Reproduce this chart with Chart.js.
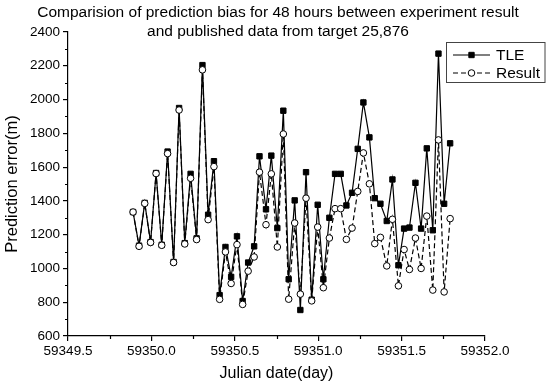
<!DOCTYPE html>
<html lang="en">
<head>
<meta charset="UTF-8">
<title>Prediction bias 48h</title>
<style>
  html, body { margin: 0; padding: 0; background: #fff; }
  #wrap { width: 550px; height: 391px; }
</style>
</head>
<body>
<div id="wrap"><canvas id="biasChart" width="550" height="391"></canvas></div>
<script src="https://cdn.jsdelivr.net/npm/chart.js@4/dist/chart.umd.js"></script>
<script>
// values
const julianDates = [
  59349.890, 59349.926, 59349.960, 59349.995, 59350.028, 59350.062, 59350.097, 59350.133,
  59350.166, 59350.200, 59350.235, 59350.271, 59350.306, 59350.340, 59350.375, 59350.409,
  59350.444, 59350.478, 59350.513, 59350.547, 59350.580, 59350.616, 59350.648, 59350.687,
  59350.719, 59350.755, 59350.791, 59350.823, 59350.859, 59350.893, 59350.927, 59350.961,
  59350.997, 59351.031, 59351.067, 59351.101, 59351.135, 59351.169, 59351.203, 59351.237,
  59351.271, 59351.307, 59351.339, 59351.373, 59351.411, 59351.445, 59351.481, 59351.515,
  59351.547, 59351.583, 59351.617, 59351.651, 59351.687, 59351.721, 59351.755, 59351.791
];
const tleError = [
  1334, 1135, 1388, 1156, 1565, 1140, 1692, 1038,
  1950, 1150, 1560, 1178, 2204, 1318, 1635, 842,
  1127, 950, 1190, 807, 1035, 1131, 1664, 1350,
  1668, 1239, 1934, 936, 1403, 754, 1570, 815,
  1377, 936, 1300, 1560, 1560, 1373, 1448, 1708,
  1983, 1776, 1416, 1383, 1281, 1527, 1019, 1236,
  1242, 1507, 1236, 1711, 1226, 2272, 1383, 1741
];
const resultError = [
  1334, 1131, 1385, 1154, 1562, 1137, 1680, 1035,
  1938, 1145, 1534, 1171, 2176, 1289, 1603, 817,
  1098, 911, 1141, 787, 984, 1068, 1570, 1259,
  1560, 1127, 1796, 818, 1269, 848, 1416, 808,
  1245, 886, 1180, 1354, 1354, 1172, 1239, 1456,
  1684, 1501, 1147, 1184, 1015, 1291, 897, 1112,
  994, 1180, 1000, 1310, 872, 1761, 861, 1295
];
const xTickValues = [59349.5, 59350.0, 59350.5, 59351.0, 59351.5, 59352.0];
const xMinorTicks = [59349.75, 59350.25, 59350.75, 59351.25, 59351.75];
const yTickValues = [600, 800, 1000, 1200, 1400, 1600, 1800, 2000, 2200, 2400];
const yMinorTicks = [700, 900, 1100, 1300, 1500, 1700, 1900, 2100, 2300];
const titleLines = [
  'Comparision of prediction bias for 48 hours between experiment result',
  'and published data from target 25,876'
];

const FONT = '"Liberation Sans", Arial, sans-serif';

const tleStyle = { pointStyle: 'rect', radius: 3.8, rotation: 0, borderWidth: 1 };
const resStyle = { pointStyle: 'circle', radius: 3.3, rotation: 0, borderWidth: 1 };
const resDash = [5, 3];

const extras = {
  id: 'extras',
  afterDraw(chart) {
    const ctx = chart.ctx;
    const xs = chart.scales.x, ys = chart.scales.y;
    const area = chart.chartArea;
    ctx.save();
    // minor ticks
    ctx.strokeStyle = '#000';
    ctx.lineWidth = 1.2;
    ctx.beginPath();
    xMinorTicks.forEach(v => {
      const px = Math.round(xs.getPixelForValue(v)) + 0.5;
      ctx.moveTo(px, area.bottom);
      ctx.lineTo(px, area.bottom + 3);
    });
    yMinorTicks.forEach(v => {
      const py = Math.round(ys.getPixelForValue(v)) + 0.5;
      ctx.moveTo(area.left, py);
      ctx.lineTo(area.left - 3, py);
    });
    ctx.stroke();

    // title
    ctx.fillStyle = '#000';
    ctx.font = '15.5px ' + FONT;
    ctx.textAlign = 'center';
    ctx.textBaseline = 'middle';
    ctx.fillText(titleLines[0], 278, 13);
    ctx.fillText(titleLines[1], 278, 31.5);

    // legend box
    ctx.lineWidth = 1;
    ctx.strokeStyle = '#444';
    ctx.strokeRect(446.5, 42.5, 98.5, 40);
    ctx.strokeStyle = '#000';
    ctx.lineWidth = 1.2;
    ctx.beginPath();
    ctx.moveTo(453, 55); ctx.lineTo(490, 55);
    ctx.stroke();
    ctx.setLineDash(resDash);
    ctx.beginPath();
    ctx.moveTo(453, 73); ctx.lineTo(490, 73);
    ctx.stroke();
    ctx.setLineDash([]);
    ctx.lineWidth = 1;
    ctx.fillStyle = '#000';
    Chart.helpers.drawPoint(ctx, tleStyle, 471.5, 55);
    ctx.fillStyle = '#fff';
    Chart.helpers.drawPoint(ctx, resStyle, 471.5, 73);
    ctx.fillStyle = '#000';
    ctx.font = '15.5px ' + FONT;
    ctx.textAlign = 'left';
    ctx.fillText(chart.data.datasets[1].label, 496, 55.5);
    ctx.fillText(chart.data.datasets[0].label, 496, 74);
    ctx.restore();
  }
};

new Chart(document.getElementById('biasChart'), {
  type: 'line',
  data: {
    datasets: [
      {
        label: 'Result',
        data: julianDates.map((d, i) => ({ x: d, y: resultError[i] })),
        borderColor: '#000',
        borderWidth: 1.2,
        borderDash: resDash,
        tension: 0,
        pointStyle: 'circle',
        pointRadius: resStyle.radius,
        pointBackgroundColor: '#fff',
        pointBorderColor: '#000',
        pointBorderWidth: 1,
        order: 0
      },
      {
        label: 'TLE',
        data: julianDates.map((d, i) => ({ x: d, y: tleError[i] })),
        borderColor: '#000',
        borderWidth: 1.2,
        tension: 0,
        pointStyle: 'rect',
        pointRadius: tleStyle.radius,
        pointBackgroundColor: '#000',
        pointBorderColor: '#000',
        pointBorderWidth: 1,
        order: 1
      }
    ]
  },
  options: {
    responsive: false,
    animation: false,
    devicePixelRatio: 1,
    layout: { padding: { top: 32, right: 65, left: 0, bottom: 0 } },
    plugins: { legend: { display: false }, tooltip: { enabled: false }, title: { display: false } },
    scales: {
      x: {
        type: 'linear',
        min: 59349.5,
        max: 59352.0,
        afterBuildTicks: s => { s.ticks = xTickValues.map(v => ({ value: v })); },
        afterFit: s => { s.height = 55; },
        border: { display: true, color: '#000', width: 1.2 },
        grid: { drawOnChartArea: false, drawTicks: true, tickLength: 5, color: '#000', lineWidth: 1.2 },
        ticks: {
          autoSkip: false,
          maxRotation: 0,
          padding: 2,
          color: '#000',
          font: { family: FONT, size: 13.5 },
          callback: v => v.toFixed(1)
        },
        title: {
          display: true,
          text: 'Julian date(day)',
          color: '#000',
          font: { family: FONT, size: 16, lineHeight: 1.2 },
          padding: { top: 0, bottom: 8 }
        }
      },
      y: {
        min: 600,
        max: 2400,
        afterBuildTicks: s => { s.ticks = yTickValues.map(v => ({ value: v })); },
        afterFit: s => { s.width = 68; },
        border: { display: true, color: '#000', width: 1.2 },
        grid: { drawOnChartArea: false, drawTicks: true, tickLength: 5, color: '#000', lineWidth: 1.2 },
        ticks: {
          autoSkip: false,
          padding: 3,
          color: '#000',
          font: { family: FONT, size: 13.5 },
          callback: v => String(v)
        },
        title: {
          display: true,
          text: 'Prediction error(m)',
          color: '#000',
          font: { family: FONT, size: 16.5, lineHeight: 1.2 },
          padding: { top: 3, bottom: 0 }
        }
      }
    }
  },
  plugins: [extras]
});
</script>
</body>
</html>
